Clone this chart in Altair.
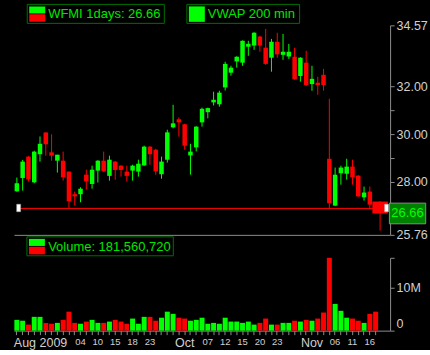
import json
import altair as alt
import pandas as pd

# ---------------- data ----------------
dates = [
    "2009-08-20", "2009-08-21", "2009-08-24", "2009-08-25", "2009-08-26", "2009-08-27", "2009-08-28", "2009-08-31",
    "2009-09-01", "2009-09-02", "2009-09-03", "2009-09-04", "2009-09-08", "2009-09-09", "2009-09-10", "2009-09-11",
    "2009-09-14", "2009-09-15", "2009-09-16", "2009-09-17", "2009-09-18", "2009-09-21", "2009-09-22", "2009-09-23",
    "2009-09-24", "2009-09-25", "2009-09-28", "2009-09-29", "2009-09-30",
    "2009-10-01", "2009-10-02", "2009-10-05", "2009-10-06", "2009-10-07", "2009-10-08", "2009-10-09", "2009-10-12",
    "2009-10-13", "2009-10-14", "2009-10-15", "2009-10-16", "2009-10-19", "2009-10-20", "2009-10-21", "2009-10-22",
    "2009-10-23", "2009-10-26", "2009-10-27", "2009-10-28", "2009-10-29", "2009-10-30",
    "2009-11-02", "2009-11-03", "2009-11-04", "2009-11-05", "2009-11-06", "2009-11-09", "2009-11-10", "2009-11-11",
    "2009-11-12", "2009-11-13", "2009-11-16", "2009-11-17",
]
opens = [27.59, 28.15, 29.05, 27.97, 29.15, 30.06, 29.23, 28.88, 28.88, 28.42,
         27.47, 27.47, 28.29, 27.90, 28.46, 28.88, 28.24, 28.84, 28.67, 28.42,
         28.46, 28.42, 28.68, 29.47, 29.34, 28.31, 28.92, 30.28, 30.62, 30.41,
         29.10, 29.44, 30.49, 30.92, 31.33, 31.25, 31.96, 32.58, 33.05, 33.00,
         33.67, 33.72, 34.10, 33.63, 33.21, 33.88, 33.33, 33.26, 33.25, 32.44,
         33.00, 32.10, 32.16, 32.49, 28.96, 26.99, 28.35, 28.33, 28.63, 28.25,
         27.34, 27.58, 27.16]
highs = [28.17, 28.91, 29.07, 29.30, 29.90, 30.08, 29.99, 29.13, 29.26, 28.42,
         27.58, 27.76, 28.50, 28.67, 28.90, 29.26, 29.09, 28.86, 28.69, 28.67,
         28.71, 28.92, 29.51, 29.49, 29.38, 29.05, 30.18, 31.23, 30.70, 30.43,
         29.59, 30.33, 31.11, 31.11, 31.78, 31.82, 33.04, 32.87, 33.27, 33.94,
         33.92, 34.28, 34.13, 34.42, 34.00, 34.26, 34.21, 33.79, 33.63, 33.23,
         33.50, 32.87, 32.41, 32.74, 31.48, 28.59, 28.67, 28.96, 28.92, 28.27,
         27.79, 27.79, 27.18]
lows = [27.57, 27.62, 28.00, 27.93, 28.84, 29.09, 28.88, 28.38, 28.04, 26.89,
        26.99, 27.13, 27.66, 27.70, 27.96, 28.41, 28.04, 28.08, 28.21, 28.00,
        28.04, 28.21, 28.66, 28.71, 28.29, 28.12, 28.80, 30.24, 29.89, 29.34,
        28.29, 29.27, 30.31, 30.66, 31.20, 31.15, 31.83, 32.45, 32.79, 32.87,
        33.29, 33.54, 33.46, 32.91, 32.62, 33.21, 33.12, 33.16, 32.28, 32.20,
        32.02, 31.82, 31.65, 31.82, 26.84, 26.97, 27.87, 28.08, 27.87, 27.36,
        27.20, 26.84, 25.94]
closes = [27.93, 28.84, 28.10, 29.26, 29.59, 29.57, 29.09, 29.13, 28.18, 27.17,
          27.38, 27.70, 28.01, 28.50, 28.88, 28.43, 28.92, 28.49, 28.49, 28.24,
          28.67, 28.75, 29.47, 29.15, 28.43, 28.84, 30.07, 30.45, 30.49, 29.51,
          29.26, 30.31, 31.06, 31.09, 31.44, 31.74, 32.95, 32.79, 33.25, 33.92,
          33.79, 34.26, 33.72, 32.95, 33.88, 33.35, 33.46, 33.46, 32.30, 33.21,
          32.06, 32.32, 32.06, 32.06, 27.09, 28.29, 28.59, 28.63, 28.18, 27.38,
          27.54, 27.03, 26.66]
volumes = [2500000, 2300000, 1400000, 3200000, 3200000, 1800000, 1600000, 1800000, 2500000, 4400000,
           1800000, 1600000, 2100000, 2500000, 1800000, 1800000, 2100000, 2500000, 2100000, 1600000,
           2800000, 1600000, 3200000, 3200000, 2300000, 3000000, 4400000, 3900000, 3000000, 2800000,
           2300000, 2500000, 3000000, 1600000, 1800000, 1600000, 3000000, 2100000, 2100000, 1800000,
           2100000, 1400000, 1800000, 2800000, 1400000, 1400000, 1800000, 1800000, 2300000, 2100000,
           2500000, 2300000, 2800000, 4200000, 16900000, 6200000, 4600000, 3000000, 2800000, 2300000,
           1800000, 3900000, 4400000]

support_level = 26.89

price_ticks = [25.76, 28.0, 29.0, 30.0, 31.0, 32.0, 34.57]
price_unlabeled = [29.0, 31.0]
volume_ticks = [0, 10000000]
volume_tick_texts = ["0", "10M"]

tick_dates = ["2009-08-20", "2009-09-04", "2009-09-10", "2009-09-15", "2009-09-18", "2009-09-23",
              "2009-10-01", "2009-10-07", "2009-10-12", "2009-10-15", "2009-10-20", "2009-10-23",
              "2009-11-02", "2009-11-06", "2009-11-11", "2009-11-16"]
tick_texts = ["Aug 2009", "04", "10", "15", "18", "23",
              "Oct", "07", "12", "15", "20", "23",
              "Nov", "06", "11", "16"]

top_legends = ["WFMI 1days: 26.66", "VWAP 200 min"]
volume_legend = "Volume: 181,560,720"

# ---------------- styling ----------------
FONT = "Liberation Sans"
GREEN = "#00ff00"
RED = "#ff0000"
GREY = "#8c8c8c"
LABEL = "#d0d0d0"
LEG_TEXT = "#00e600"
LEG_BORDER = "#007000"
BOX_FILL = "#008000"

df = pd.DataFrame({"date": dates, "open": opens, "high": highs, "low": lows,
                   "close": closes, "volume": volumes})
last_date = dates[-1]

xscale = alt.Scale(domain=dates, paddingInner=0, paddingOuter=1, align=0)
color_cond = alt.condition("datum.close >= datum.open", alt.value(GREEN), alt.value(RED))

# ---------------- price panel ----------------
price_x_axis = alt.Axis(labels=False, ticks=False, domain=True, domainColor=GREY, title=None, grid=False)
blank_expr = " || ".join(f"datum.value == {v}" for v in price_unlabeled)
price_y_axis = alt.Axis(orient="right", values=price_ticks, grid=False, title=None,
                        labelExpr=f"({blank_expr}) ? '' : format(datum.value, '.2f')",
                        tickColor=GREY, tickSize=4, domainColor=GREY, labelColor=LABEL,
                        labelFont=FONT, labelFontSize=12.5, labelPadding=2)
yscale = alt.Scale(domain=[price_ticks[0], price_ticks[-1]], nice=False, zero=False)
X = alt.X("date:O", scale=xscale, axis=price_x_axis, title=None)


def Y(field):
    return alt.Y(f"{field}:Q", scale=yscale, axis=price_y_axis, title=None)


base = alt.Chart(df)
main = base.transform_filter(alt.datum.date != last_date)
last = base.transform_filter(alt.datum.date == last_date)

wicks = main.mark_rule(strokeWidth=1).encode(x=X, y=Y("low"), y2="high:Q", color=color_cond)
bodies = main.mark_bar(size=4.5).encode(x=X, y=Y("open"), y2="close:Q", color=color_cond)
last_wick = last.mark_rule(strokeWidth=1, xOffset=4.5).encode(x=X, y=Y("low"), y2="high:Q", color=color_cond)
last_body = last.mark_bar(size=15.5, xOffset=4.5).encode(x=X, y=Y("open"), y2="close:Q", color=color_cond)

sup_df = pd.DataFrame({"start": [dates[0]], "end": [last_date], "level": [support_level]})
sup = alt.Chart(sup_df)
sup_line = sup.mark_rule(color=RED, strokeWidth=1, xOffset=1.8, x2Offset=11, yOffset=0.45).encode(
    x=alt.X("start:O", scale=xscale, axis=price_x_axis, title=None), x2="end", y=Y("level"))
sq_path = "M-0.53,-1L0.53,-1L0.53,1L-0.53,1Z"
sq_left = sup.mark_point(shape=sq_path, size=56, filled=True, fill="white", stroke="#aaaaaa",
                         strokeWidth=0.5, opacity=1, xOffset=1.8).encode(
    x=alt.X("start:O", scale=xscale, axis=price_x_axis, title=None), y=Y("level"))
sq_right = sup.mark_point(shape=sq_path, size=56, filled=True, fill="white", stroke="#aaaaaa",
                          strokeWidth=0.5, opacity=1, xOffset=11).encode(
    x=alt.X("end:O", scale=xscale, axis=price_x_axis, title=None), y=Y("level"))

box_path = "M-1,-0.569L1,-0.569L1,0.569L-1,0.569Z"
price_box = last.mark_point(shape=box_path, size=1325, filled=True, fill=BOX_FILL, stroke=GREY,
                            strokeWidth=1, opacity=1).encode(x=alt.value(394.5), y=Y("close"))
price_txt = last.mark_text(font=FONT, fontSize=13, color=GREEN, align="center", baseline="middle").encode(
    x=alt.value(394.5), y=Y("close"), text=alt.Text("close:Q", format=".2f"))


def legend_layers(text, x0, x1, y0, y1, two_tone, text_x):
    c = alt.Chart(pd.DataFrame({"text": [text]}))
    layers = [c.mark_rect(fill="black", stroke=LEG_BORDER, strokeWidth=1).encode(
        x=alt.value(x0), x2=alt.value(x1), y=alt.value(y0), y2=alt.value(y1))]
    ix0 = x0 + 2
    ix1 = ix0 + 16
    if two_tone:
        mid = (y0 + y1) / 2
        layers.append(c.mark_rect(fill=GREEN).encode(
            x=alt.value(ix0), x2=alt.value(ix1), y=alt.value(y0 + 2), y2=alt.value(mid - 0.4)))
        layers.append(c.mark_rect(fill=RED).encode(
            x=alt.value(ix0), x2=alt.value(ix1), y=alt.value(mid + 0.4), y2=alt.value(y1 - 1.5)))
    else:
        layers.append(c.mark_rect(fill=GREEN).encode(
            x=alt.value(ix0), x2=alt.value(ix1), y=alt.value(y0 + 2), y2=alt.value(y1 - 1.5)))
    layers.append(c.mark_text(font=FONT, fontSize=13, color=LEG_TEXT, align="left", baseline="middle").encode(
        x=alt.value(text_x), y=alt.value((y0 + y1) / 2 + 0.5), text="text:N"))
    return layers


price_legends = (legend_layers(top_legends[0], 13.3, 150.7, -21, -2, True, 34.3)
                 + legend_layers(top_legends[1], 173.3, 286.3, -21, -2, False, 194.3))

price = alt.layer(*price_legends, sup_line, wicks, bodies, last_wick, last_body,
                  sq_left, sq_right, price_box, price_txt).properties(width=377, height=210)

# ---------------- volume panel ----------------
dates_js = json.dumps(tick_dates)
texts_js = json.dumps(tick_texts)
month_dates = [d for d, t in zip(tick_dates, tick_texts) if len(t) > 2]
month_test = f"indexof({json.dumps(month_dates)}, datum.value) >= 0"
first_test = f"datum.value == '{tick_dates[0]}'"

vol_x_axis = alt.Axis(
    labelExpr=f"indexof({dates_js}, datum.value) >= 0 ? {texts_js}[indexof({dates_js}, datum.value)] : ''",
    labelOverlap=False, labelAngle=0, labelFont=FONT, labelColor=LABEL,
    labelFontSize={"condition": {"test": month_test, "value": 12.5}, "value": 9.5},
    labelAlign={"condition": {"test": first_test, "value": "left"}, "value": "center"},
    labelOffset={"condition": {"test": first_test, "value": -3}, "value": 0},
    labelPadding=2, tickColor=GREY, tickSize=4, domainColor=GREY, grid=False, title=None)

vt_vals_js = json.dumps(volume_ticks)
vt_txt_js = json.dumps(volume_tick_texts)
vmax = max(volumes)
vol_y_axis = alt.Axis(
    orient="right", values=volume_ticks + [vmax], grid=False, title=None,
    labelExpr=f"indexof({vt_vals_js}, datum.value) >= 0 ? {vt_txt_js}[indexof({vt_vals_js}, datum.value)] : ''",
    labelFlush=True, tickColor=GREY, tickSize=4, domainColor=GREY, labelColor=LABEL,
    labelFont=FONT, labelFontSize=12.5, labelPadding=2)

vol_bars = base.mark_bar(size=5).encode(
    x=alt.X("date:O", scale=xscale, axis=vol_x_axis, title=None),
    y=alt.Y("volume:Q", scale=alt.Scale(domain=[0, vmax], nice=False), axis=vol_y_axis, title=None),
    color=color_cond)

vol_legends = legend_layers(volume_legend, 13, 159.7, -21, -2, True, 34.3)
volume = alt.layer(*vol_legends, vol_bars).properties(width=377, height=73)

chart = alt.vconcat(price, volume, spacing=23, bounds="flush").resolve_scale(x="independent").properties(
    padding={"left": 13, "top": 3, "right": 2, "bottom": 0}
).configure(background="black").configure_view(strokeWidth=0)

chart.save("out.html", embed_options={"renderer": "svg", "actions": False})
